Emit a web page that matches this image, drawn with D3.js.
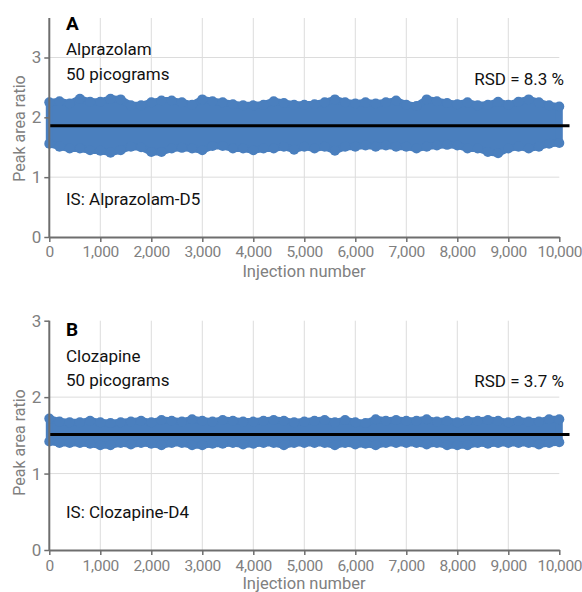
<!DOCTYPE html>
<html><head><meta charset="utf-8">
<script src="https://cdn.jsdelivr.net/npm/d3@7/dist/d3.min.js"></script>
<style>
body{margin:0;background:#fff}
text{font-family:Roboto,"Liberation Sans",sans-serif}
</style></head>
<body><svg id="chart" width="582" height="592"></svg>
<script>
// Bin centres (injection number) at which the upper / lower edges of the point cloud were read
const injections = d3.range(0, 10001, 200);
const xTicks = [0,1000,2000,3000,4000,5000,6000,7000,8000,9000,10000];
const yTicks = [0,1,2,3];

// Panel A – Alprazolam, peak area ratio extremes per bin
const alprazolamMax = [2.25,2.27,2.23,2.31,2.26,2.26,2.31,2.30,2.20,2.20,2.25,2.28,2.28,2.25,2.21,2.30,2.27,2.25,2.22,2.20,2.20,2.21,2.27,2.24,2.21,2.21,2.22,2.25,2.30,2.25,2.23,2.25,2.23,2.25,2.28,2.21,2.19,2.30,2.27,2.24,2.22,2.25,2.20,2.21,2.26,2.21,2.26,2.30,2.25,2.20,2.18];
const alprazolamMin = [1.56,1.51,1.48,1.48,1.45,1.44,1.41,1.45,1.51,1.50,1.42,1.42,1.48,1.49,1.48,1.45,1.52,1.52,1.48,1.48,1.45,1.48,1.48,1.51,1.46,1.51,1.48,1.51,1.44,1.51,1.51,1.53,1.51,1.53,1.51,1.51,1.48,1.51,1.53,1.54,1.53,1.48,1.48,1.42,1.40,1.48,1.51,1.48,1.51,1.56,1.57];
const alprazolamMean = 1.86;

// Panel B – Clozapine
const clozapineMax = [1.72,1.68,1.67,1.67,1.69,1.67,1.66,1.67,1.68,1.69,1.67,1.70,1.69,1.68,1.71,1.69,1.68,1.70,1.69,1.68,1.68,1.69,1.70,1.69,1.67,1.68,1.69,1.70,1.67,1.70,1.67,1.66,1.71,1.69,1.70,1.69,1.69,1.71,1.68,1.69,1.67,1.69,1.69,1.70,1.69,1.67,1.69,1.68,1.68,1.71,1.71];
const clozapineMin = [1.42,1.40,1.40,1.40,1.39,1.37,1.37,1.40,1.38,1.40,1.39,1.37,1.40,1.40,1.37,1.37,1.39,1.39,1.40,1.38,1.39,1.40,1.40,1.37,1.40,1.40,1.40,1.40,1.37,1.40,1.38,1.39,1.37,1.40,1.40,1.40,1.40,1.38,1.40,1.37,1.37,1.37,1.40,1.39,1.40,1.40,1.40,1.40,1.38,1.40,1.41];
const clozapineMean = 1.51;
const meanEnd = 10200;

const panels = [
  {letter:"A", name:"Alprazolam", amount:"50 picograms", is:"IS: Alprazolam-D5", rsd:"RSD = 8.3 %",
   max:alprazolamMax, min:alprazolamMin, mean:alprazolamMean, yMax:3.66, y0:237, y1:18,
   letterY:30, nameY:55, amountY:80, isY:205, rsdY:85, tickY:257, titleY:277, titleCy:128.5},
  {letter:"B", name:"Clozapine", amount:"50 picograms", is:"IS: Clozapine-D4", rsd:"RSD = 3.7 %",
   max:clozapineMax, min:clozapineMin, mean:clozapineMean, yMax:3, y0:550, y1:320.7,
   letterY:336, nameY:362, amountY:386, isY:518, rsdY:387, tickY:571, titleY:589, titleCy:442.5}
];

const svg = d3.select("#chart");
const x = d3.scaleLinear().domain([0,10000]).range([49.3,559.3]);
const dotColor = "#4a7fbe";
const axisColor = "#6e6e6e";
const labelColor = "#808080";
const gridColor = "#dcdcdc";
const inkColor = "#111";

panels.forEach(p => {
  const y = d3.scaleLinear().domain([0,p.yMax]).range([p.y0,p.y1]);
  const g = svg.append("g");

  // grid
  g.selectAll(".vg").data(xTicks.filter(t => t>0 && t<10000)).join("line")
    .attr("x1", d=>x(d)).attr("x2", d=>x(d)).attr("y1", p.y1).attr("y2", p.y0)
    .attr("stroke", gridColor).attr("stroke-width",1);
  g.selectAll(".hg").data(yTicks.filter(t => t>0 && t<p.yMax-0.01)).join("line")
    .attr("x1", x(0)).attr("x2", x(10000)).attr("y1", d=>y(d)).attr("y2", d=>y(d))
    .attr("stroke", gridColor).attr("stroke-width",1);

  // point cloud
  const pts = injections.map((d,i)=>({i:d, hi:p.max[i], lo:p.min[i]}));
  const area = d3.area().x(d=>x(d.i)).y0(d=>y(d.lo)).y1(d=>y(d.hi));
  g.append("path").datum(pts).attr("d", area)
    .attr("fill", dotColor).attr("stroke", dotColor).attr("stroke-width", 7).attr("stroke-linejoin","round");
  g.selectAll(".dhi").data(pts).join("circle")
    .attr("cx", d=>x(d.i)).attr("cy", d=>y(d.hi)).attr("r", 5).attr("fill", dotColor);
  g.selectAll(".dlo").data(pts).join("circle")
    .attr("cx", d=>x(d.i)).attr("cy", d=>y(d.lo)).attr("r", 5).attr("fill", dotColor);

  // mean line
  g.append("line").attr("x1", x(0)).attr("x2", x(meanEnd)).attr("y1", y(p.mean)).attr("y2", y(p.mean))
    .attr("stroke","#000").attr("stroke-width",3);

  // axes
  const xa = g.append("g").attr("transform",`translate(0,${p.y0})`)
    .call(d3.axisBottom(x).tickValues(xTicks).tickSize(5).tickSizeOuter(0).tickFormat(d3.format(",")));
  const ya = g.append("g").attr("transform",`translate(${x(0)},0)`)
    .call(d3.axisLeft(y).tickValues(yTicks).tickSize(5).tickSizeOuter(0).tickFormat(d3.format("d")));
  [xa,ya].forEach(a=>{
    a.select(".domain").attr("stroke",axisColor).attr("stroke-width",2);
    a.selectAll(".tick line").attr("stroke",axisColor).attr("stroke-width",1.5);
    a.selectAll(".tick text").attr("fill",labelColor).attr("font-size",15.5).attr("font-family","Roboto");
  });
  xa.selectAll(".tick text").attr("dy",null).attr("y", p.tickY - p.y0).attr("letter-spacing",-0.3);
  ya.selectAll(".tick text").attr("x",-8).attr("font-size",17);
  ya.select(".domain").attr("d", `M0,${p.y0}V${p.y1}`);

  // axis titles
  g.append("text").attr("x", 304).attr("y", p.titleY).attr("text-anchor","middle")
    .attr("fill",labelColor).attr("font-size",16.5).text("Injection number");
  g.append("text").attr("transform",`translate(25,${p.titleCy}) rotate(-90)`)
    .attr("text-anchor","middle").attr("fill",labelColor).attr("font-size",16).text("Peak area ratio");

  // annotations
  g.append("text").attr("x",66).attr("y",p.letterY).attr("font-size",19).attr("font-weight","bold")
    .attr("fill","#000").text(p.letter);
  g.append("text").attr("x",66).attr("y",p.nameY).attr("font-size",17).attr("fill",inkColor).text(p.name);
  g.append("text").attr("x",66).attr("y",p.amountY).attr("font-size",17).attr("fill",inkColor).text(p.amount);
  g.append("text").attr("x",66).attr("y",p.isY).attr("font-size",17).attr("fill",inkColor).text(p.is);
  g.append("text").attr("x",564).attr("y",p.rsdY).attr("text-anchor","end").attr("font-size",17)
    .attr("fill",inkColor).text(p.rsd);
});
</script></body></html>
